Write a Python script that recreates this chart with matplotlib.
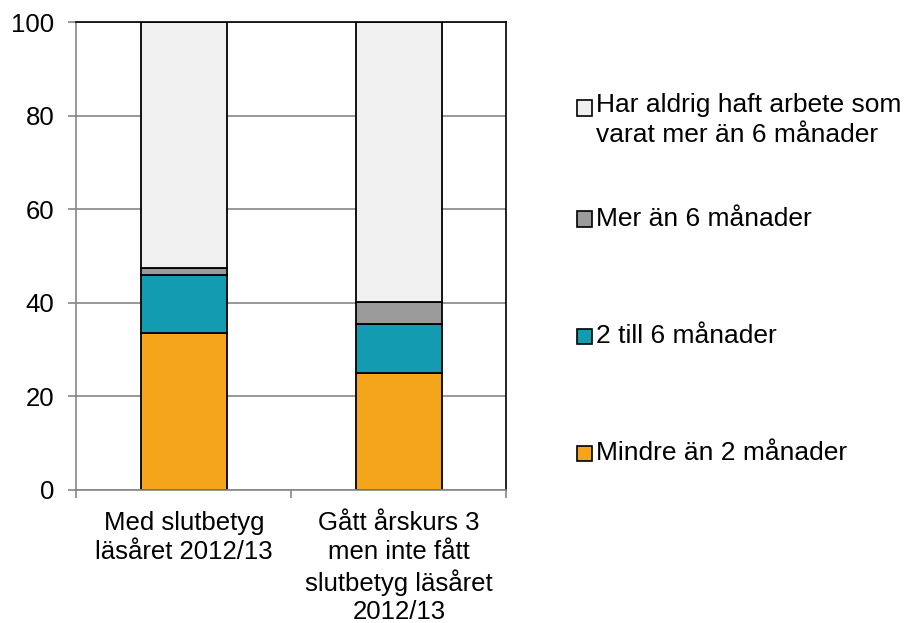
import matplotlib
matplotlib.use('Agg')
import matplotlib.pyplot as plt
from matplotlib.patches import Rectangle
import numpy as np

plt.rcParams['font.family'] = ['Liberation Sans', 'DejaVu Sans']

categories = ['Med slutbetyg\nläsåret 2012/13',
              'Gått årskurs 3\nmen inte fått\nslutbetyg läsåret\n2012/13']
series = ['Mindre än 2 månader', '2 till 6 månader', 'Mer än 6 månader',
          'Har aldrig haft arbete som\nvarat mer än 6 månader']
mindre_2 = [33.5, 25.0]
till_6 = [12.5, 10.5]
mer_6 = [1.4, 4.7]
aldrig = [52.6, 59.8]
colors = ['#F4A519', '#139BB1', '#9B9B9B', '#F0F0F0']

values = [mindre_2, till_6, mer_6, aldrig]
fs = 18.5
fs_leg = 19

fig = plt.figure(figsize=(9.06, 6.23), dpi=100)
ax = fig.add_axes([0.0844, 0.2135, 0.4746, 0.7504])

x = np.arange(len(categories))
bottom = np.zeros(len(categories))
for vals, c in zip(values, colors):
    ax.bar(x, vals, width=0.4, bottom=bottom, color=c, edgecolor='black',
           linewidth=1.3, zorder=3)
    bottom += np.array(vals)

ax.set_xlim(-0.5, 1.5)
ax.set_ylim(0, 100)
ax.set_yticks([0, 20, 40, 60, 80, 100])
ax.yaxis.grid(True, color='#868686', linewidth=1.2, zorder=0)

ax.set_xticks([-0.5, 0.5, 1.5])
ax.set_xticklabels([])
ax.set_xticks(x, minor=True)
ax.set_xticklabels(categories, minor=True, fontsize=fs, linespacing=1.25)
ax.tick_params(axis='x', which='minor', length=0, pad=15)
ax.tick_params(axis='x', which='major', length=6, color='#868686', width=1.2)
ax.tick_params(axis='y', length=6, color='#868686', width=1.2, labelsize=fs, pad=10)

ax.spines['left'].set_color('#868686')
ax.spines['bottom'].set_color('#868686')
ax.spines['top'].set_color('black')
ax.spines['right'].set_color('black')
for s in ax.spines.values():
    s.set_linewidth(1.2)
    s.set_zorder(4)

# legend, drawn by hand so entries can sit as in the reference
leg_y = [453, 336, 219, 108]
W, H = 906, 623
sq = 15
for lab, c, yc in zip(series, colors, leg_y):
    fig.patches.append(Rectangle((577 / W, (H - yc - sq / 2) / H), sq / W, sq / H,
                                 transform=fig.transFigure, facecolor=c,
                                 edgecolor='black', linewidth=1.2))
    if '\n' in lab:
        fig.text(596 / W, (H - yc + 15) / H, lab, fontsize=fs_leg, va='top',
                 ha='left', linespacing=1.3)
    else:
        fig.text(596 / W, (H - yc) / H, lab, fontsize=fs_leg, va='center', ha='left')

fig.savefig('out.png', dpi=100)
